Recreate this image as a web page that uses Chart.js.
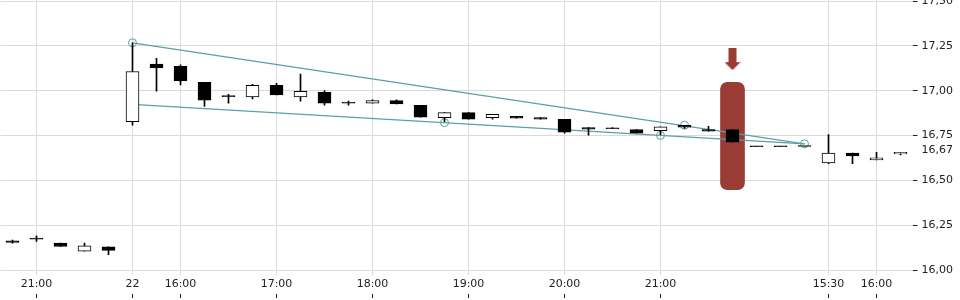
<!DOCTYPE html>
<html>
<head>
<meta charset="utf-8">
<script src="https://cdn.jsdelivr.net/npm/chart.js@4.4.1/dist/chart.umd.min.js"></script>
<style>
  html, body { margin: 0; padding: 0; background: #fff; }
  canvas { display: block; }
</style>
</head>
<body>
<canvas id="chart" width="960" height="300"></canvas>
<script>
// one candle every 15 minutes, only some slots carry a label
const timeLabels = ['', '21:00', '', '', '', '22', '', '16:00', '', '', '', '17:00', '', '', '', '18:00', '', '', '', '19:00',
  '', '', '', '20:00', '', '', '', '21:00', '', '', '', '', '', '', '15:30', '', '16:00', ''];

const opens  = [16.163, 16.173, 16.151, 16.106, 16.130, 16.827, 17.148, 17.136, 17.047, 16.967,
  16.965, 17.030, 16.965, 16.991, 16.930, 16.931, 16.945, 16.918, 16.850, 16.878,
  16.850, 16.857, 16.851, 16.840, 16.795, 16.788, 16.784, 16.777, 16.807, 16.784,
  16.783, 16.688, 16.688, 16.689, 16.598, 16.652, 16.615, 16.648];
const highs  = [16.168, 16.192, 16.151, 16.151, 16.130, 17.267, 17.181, 17.144, 17.047, 16.980,
  17.036, 17.041, 17.093, 17.001, 16.942, 16.950, 16.950, 16.918, 16.878, 16.878,
  16.868, 16.857, 16.851, 16.840, 16.795, 16.795, 16.784, 16.799, 16.807, 16.801,
  16.783, 16.688, 16.688, 16.689, 16.755, 16.652, 16.657, 16.657];
const lows   = [16.150, 16.160, 16.132, 16.106, 16.087, 16.808, 16.998, 17.032, 16.913, 16.931,
  16.954, 16.976, 16.942, 16.920, 16.920, 16.931, 16.926, 16.853, 16.827, 16.842,
  16.842, 16.847, 16.842, 16.764, 16.753, 16.788, 16.764, 16.755, 16.790, 16.775,
  16.713, 16.688, 16.688, 16.689, 16.593, 16.593, 16.615, 16.643];
const closes = [16.155, 16.173, 16.132, 16.136, 16.110, 17.107, 17.127, 17.054, 16.948, 16.967,
  17.030, 16.976, 16.997, 16.931, 16.930, 16.945, 16.926, 16.853, 16.878, 16.842,
  16.868, 16.847, 16.842, 16.769, 16.786, 16.788, 16.764, 16.799, 16.797, 16.775,
  16.713, 16.688, 16.688, 16.689, 16.652, 16.637, 16.626, 16.657];

// wedge drawn on the chart: [candle index, price]
const upperTrend = [[5, 17.267], [33, 16.704]];
const lowerTrend = [[5, 16.924], [33, 16.704]];
const pivots = [[5, 17.267], [18, 16.822], [27, 16.751], [28, 16.808], [33, 16.704]];

// signal marker
const signalIndex = 30;
const signalRange = [16.449, 17.047];
const arrowPrice = 17.176;

const yTicks = [16, 16.25, 16.5, 16.75, 17, 17.25, 17.5];
const lastPrice = 16.67;

const teal = '#5c9fa6';
const signalRed = '#9b3b35';
const gridGray = '#dadada';
const textColor = '#222';
const font = { family: 'DejaVu Sans', size: 11 };

const sparse = (pairs) => {
  const arr = timeLabels.map(() => null);
  pairs.forEach(([i, v]) => { arr[i] = v; });
  return arr;
};

function arrowGlyph(color) {
  const c = document.createElement('canvas');
  c.width = 16; c.height = 22;
  const g = c.getContext('2d');
  g.fillStyle = color;
  g.fillRect(4, 0, 8, 14);
  g.beginPath();
  g.moveTo(0, 14); g.lineTo(16, 14); g.lineTo(8, 22);
  g.closePath();
  g.fill();
  return c;
}

// keep the plot flush with the canvas edges
const noPadding = (s) => {
  s.paddingLeft = 0; s.paddingRight = 0; s.paddingTop = 0; s.paddingBottom = 0;
};

const bodies = opens.map((o, i) => [o, closes[i]]);
const wicks = lows.map((l, i) => [l, highs[i]]);
const bodyColors = opens.map((o, i) => (closes[i] > o ? '#fff' : '#000'));

const highlight = timeLabels.map((_, i) => (i === signalIndex ? signalRange : null));
const arrow = timeLabels.map((_, i) => (i === signalIndex ? arrowPrice : null));

new Chart(document.getElementById('chart'), {
  type: 'bar',
  data: {
    labels: timeLabels,
    datasets: [
      {
        label: 'signal',
        data: highlight,
        backgroundColor: signalRed,
        borderRadius: 7,
        borderSkipped: false,
        barPercentage: 1,
        categoryPercentage: 1,
        grouped: false,
        order: 10,
      },
      {
        type: 'line',
        label: 'upper',
        data: sparse(upperTrend),
        spanGaps: true,
        borderColor: teal,
        borderWidth: 1.2,
        pointRadius: 0,
        order: 7,
      },
      {
        type: 'line',
        label: 'lower',
        data: sparse(lowerTrend),
        spanGaps: true,
        borderColor: teal,
        borderWidth: 1.2,
        pointRadius: 0,
        order: 7,
      },
      {
        type: 'line',
        label: 'pivots',
        data: sparse(pivots),
        showLine: false,
        pointRadius: 4,
        pointBorderWidth: 1,
        pointBorderColor: teal,
        pointBackgroundColor: 'rgba(0,0,0,0)',
        order: 6,
      },
      {
        label: 'wicks',
        data: wicks,
        backgroundColor: '#000',
        barThickness: 1,
        grouped: false,
        order: 3,
      },
      {
        label: 'bodies',
        data: bodies,
        backgroundColor: bodyColors,
        borderColor: '#000',
        borderWidth: 1,
        borderSkipped: false,
        barThickness: 13,
        minBarLength: 1,
        grouped: false,
        order: 2,
      },
      {
        type: 'line',
        label: 'arrow',
        data: arrow,
        showLine: false,
        pointStyle: arrowGlyph(signalRed),
        pointRadius: 10,
        order: 1,
      },
    ],
  },
  options: {
    responsive: false,
    animation: false,
    layout: { autoPadding: false, padding: { left: 0.5, bottom: 2, top: 0, right: 0 } },
    plugins: { legend: { display: false }, tooltip: { enabled: false } },
    scales: {
      x: {
        type: 'category',
        offset: true,
        weight: 0,
        afterFit: noPadding,
        grid: {
          offset: false,
          drawTicks: false,
          color: (c) => (timeLabels[c.index] ? gridGray : 'rgba(0,0,0,0)'),
        },
        border: { display: false },
        ticks: { autoSkip: false, maxRotation: 0, padding: 3, color: textColor, font },
      },
      xt: {
        type: 'category',
        position: 'bottom',
        offset: true,
        weight: 1,
        afterFit: noPadding,
        grid: {
          offset: false,
          drawOnChartArea: false,
          tickLength: 4,
          tickColor: (c) => (timeLabels[c.index] ? textColor : 'rgba(0,0,0,0)'),
        },
        border: { display: false },
        ticks: { display: false },
      },
      y: {
        position: 'right',
        min: 15.9743,
        max: 17.5056,
        bounds: 'data',
        afterBuildTicks: (s) => {
          s.ticks = yTicks.concat([lastPrice]).sort((a, b) => a - b).map((v) => ({ value: v }));
        },
        afterFit: (s) => { s.width = 47.5; noPadding(s); },
        grid: {
          color: (c) => (c.tick && c.tick.value === lastPrice ? 'rgba(0,0,0,0)' : gridGray),
          tickColor: (c) => (c.tick && c.tick.value === lastPrice ? 'rgba(0,0,0,0)' : textColor),
          tickLength: 5,
        },
        border: { display: false },
        ticks: {
          autoSkip: false,
          padding: 4,
          color: textColor,
          font,
          callback: (v) => Number(v).toFixed(2).replace('.', ','),
        },
      },
    },
  },
});
</script>
</body>
</html>
